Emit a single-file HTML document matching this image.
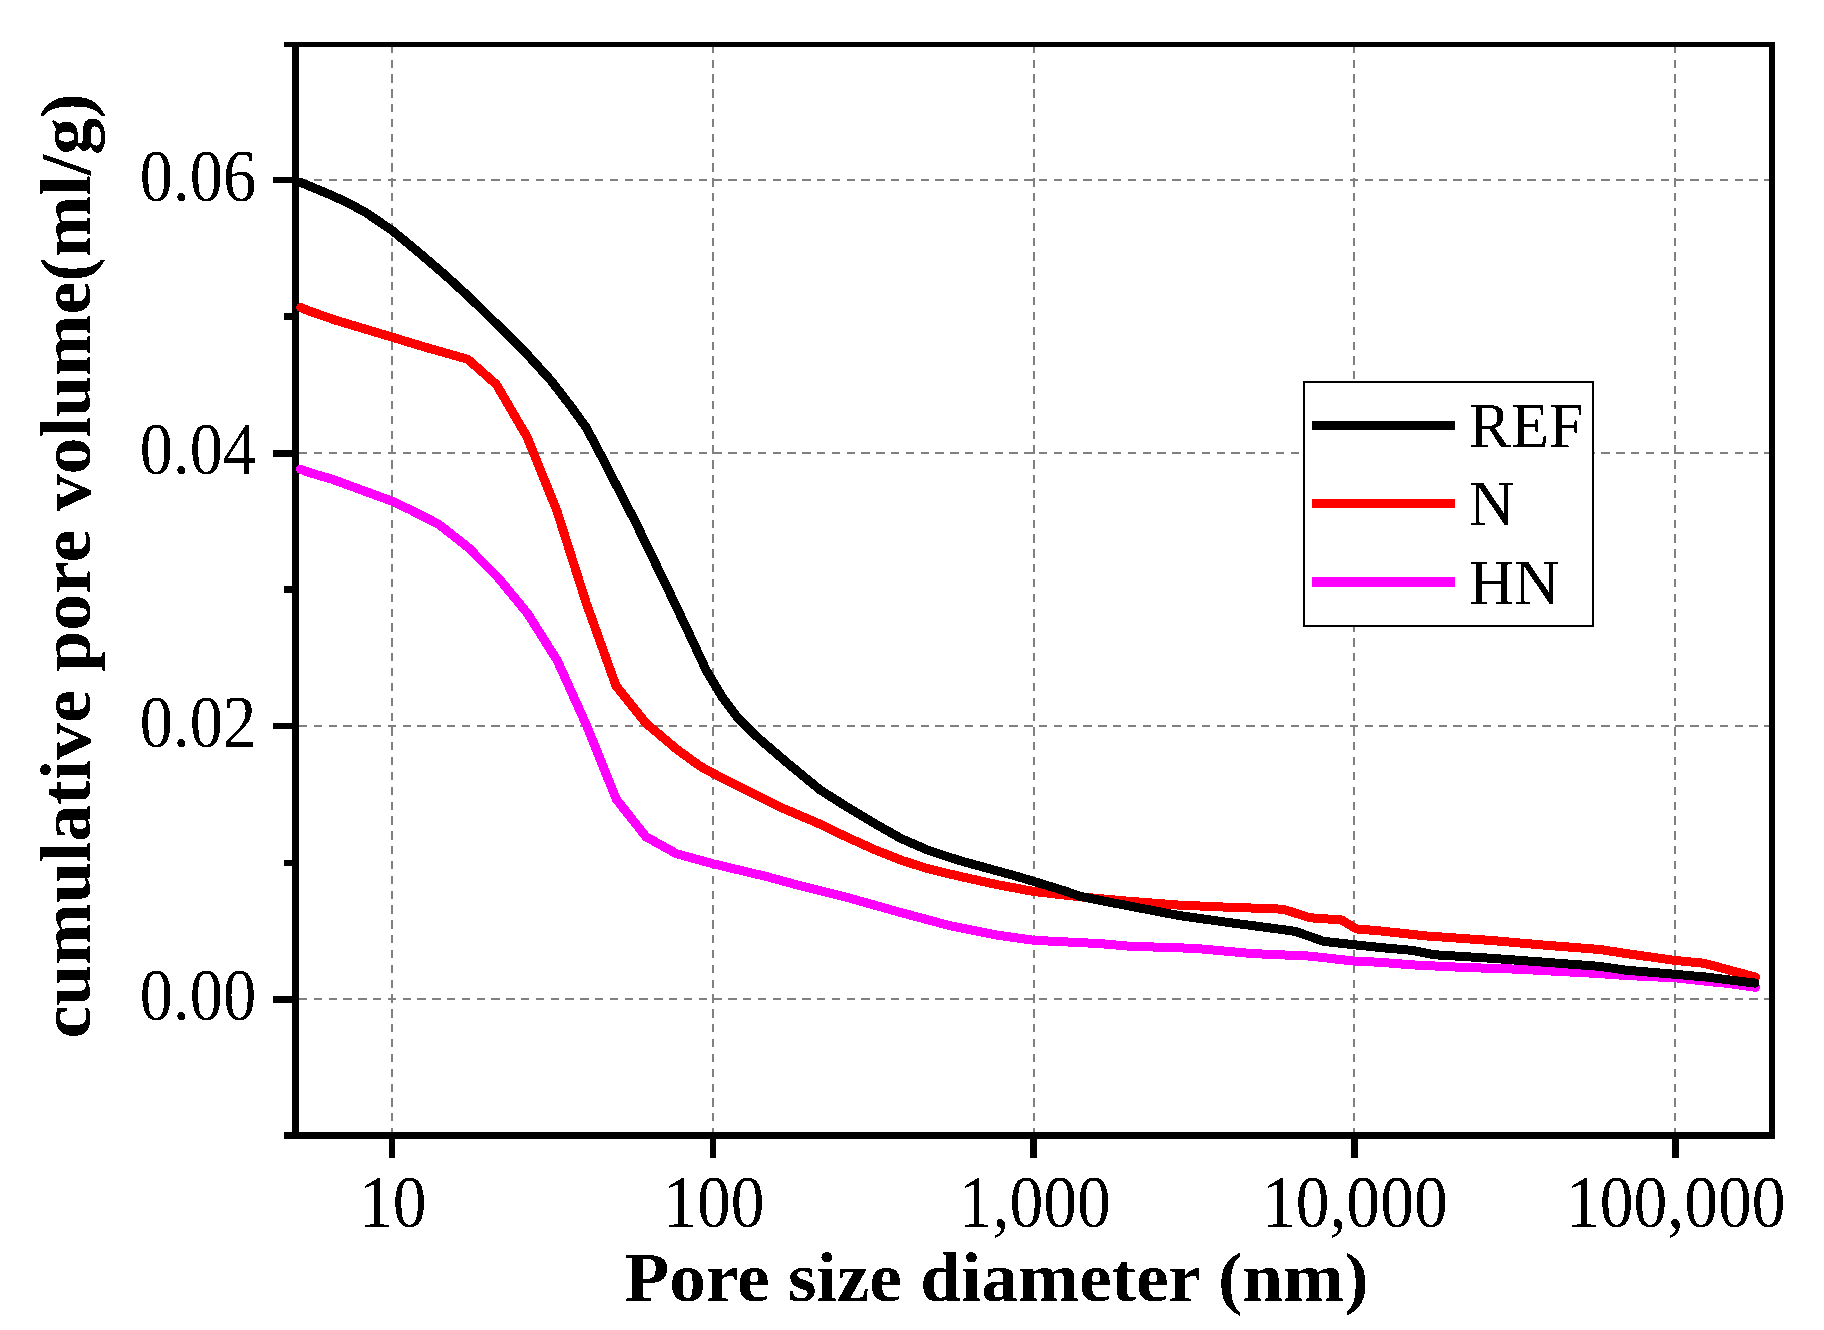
<!DOCTYPE html>
<html lang="en"><head><meta charset="utf-8"><title>Cumulative pore volume</title>
<style>
html,body{margin:0;padding:0;background:#fff;}
body{width:1824px;height:1330px;overflow:hidden;}
svg{display:block;}
text{font-family:"Liberation Serif",serif;fill:#000;}
.tk{font-size:68px;}
.ttl{font-size:73.3px;font-weight:bold;}
.lg{font-size:64px;}
</style></head><body>
<svg width="1824" height="1330" viewBox="0 0 1824 1330">
<rect x="0" y="0" width="1824" height="1330" fill="#fff"/>

<g stroke="#808080" stroke-width="2" fill="none" shape-rendering="crispEdges">
<line x1="299" y1="180" x2="1769" y2="180" stroke-dasharray="8.3 6.5"/>
<line x1="299" y1="453" x2="1769" y2="453" stroke-dasharray="8.3 6.5"/>
<line x1="299" y1="726" x2="1769" y2="726" stroke-dasharray="8.3 6.5"/>
<line x1="299" y1="999" x2="1769" y2="999" stroke-dasharray="8.3 6.5"/>
<line x1="392" y1="44.7" x2="392" y2="1132" stroke-dasharray="8.3 6.54"/>
<line x1="713" y1="44.7" x2="713" y2="1132" stroke-dasharray="8.3 6.54"/>
<line x1="1034" y1="44.7" x2="1034" y2="1132" stroke-dasharray="8.3 6.54"/>
<line x1="1354" y1="44.7" x2="1354" y2="1132" stroke-dasharray="8.3 6.54"/>
<line x1="1675" y1="44.7" x2="1675" y2="1132" stroke-dasharray="8.3 6.54"/>
</g>
<g fill="#000" shape-rendering="crispEdges">
<rect x="292" y="42" width="7" height="1097"/>
<rect x="284" y="42" width="1491" height="5"/>
<rect x="284" y="1132" width="1491" height="7"/>
<rect x="1769" y="42" width="6" height="1097"/>
<rect x="273" y="177" width="20" height="6"/>
<rect x="273" y="450" width="20" height="7"/>
<rect x="273" y="723" width="20" height="6"/>
<rect x="273" y="996" width="20" height="7"/>
<rect x="284" y="313" width="9" height="7"/>
<rect x="284" y="586" width="9" height="7"/>
<rect x="284" y="860" width="9" height="6"/>
<rect x="389" y="1138" width="6" height="20"/>
<rect x="710" y="1138" width="6" height="20"/>
<rect x="1030" y="1138" width="7" height="20"/>
<rect x="1351" y="1138" width="7" height="20"/>
<rect x="1672" y="1138" width="7" height="20"/>
</g>
<defs><clipPath id="cp"><rect x="296" y="45" width="1476" height="1090"/></clipPath><filter id="bl" x="0" y="0" width="1824" height="1330" filterUnits="userSpaceOnUse" color-interpolation-filters="sRGB"><feComponentTransfer><feFuncA type="discrete" tableValues="0 1"/></feComponentTransfer></filter></defs>
<g clip-path="url(#cp)" fill="none" stroke-width="9" stroke-linejoin="round" stroke-linecap="round" shape-rendering="crispEdges">
<polyline stroke="#ff00ff" points="300.5,469.3 310.0,472.7 332.9,479.5 391.5,501.0 408.6,509.0 438.4,524.0 468.2,547.5 498.0,577.5 527.8,613.8 557.3,660.6 586.5,725.2 616.3,799.2 646.0,836.8 676.5,853.7 713.0,863.8 765.6,876.3 800.0,885.7 849.6,898.1 899.2,912.1 948.8,925.4 998.4,935.3 1034.0,940.3 1100.0,943.6 1129.3,946.2 1195.1,948.4 1252.7,953.6 1310.3,956.1 1353.8,961.1 1380.0,962.3 1412.6,964.9 1465.3,967.5 1517.9,969.2 1600.0,973.6 1626.0,975.5 1674.9,977.8 1706.6,981.3 1729.7,983.6 1755.6,987.3"/>
<polyline stroke="#ff0000" points="300.5,307.5 310.0,311.3 335.1,320.0 392.3,337.2 425.3,347.2 467.8,359.3 496.4,384.5 527.1,437.0 556.8,510.5 586.3,603.2 616.0,685.8 646.0,723.2 676.7,749.2 700.0,766.1 713.1,773.3 745.1,789.5 781.2,807.6 817.3,822.9 847.1,837.2 874.1,849.4 901.2,860.2 928.2,868.8 960.0,876.4 998.4,884.9 1034.0,891.5 1080.0,896.8 1100.0,898.7 1129.3,901.3 1178.7,905.1 1228.0,907.2 1277.4,908.9 1285.6,910.0 1310.3,917.8 1341.5,919.9 1356.3,928.9 1380.0,930.9 1425.8,935.9 1491.6,940.5 1544.2,945.1 1600.0,949.5 1626.0,953.5 1674.9,960.4 1704.3,963.3 1729.7,970.2 1755.6,977.1"/>
<polyline stroke="#000000" points="300.5,182.3 314.0,188.0 332.1,195.5 350.1,204.0 366.0,212.7 392.3,230.6 417.1,251.0 444.1,274.1 471.2,298.9 498.2,325.5 524.1,351.0 551.2,380.8 571.5,407.2 586.4,427.8 601.5,456.4 635.3,521.8 669.2,591.7 691.7,639.1 706.4,670.7 722.6,697.6 738.3,718.6 760.2,739.7 790.2,765.3 820.0,789.8 847.1,807.0 874.1,823.2 901.2,838.6 928.2,850.3 960.0,860.7 1015.0,875.8 1034.0,881.5 1064.6,890.9 1080.0,896.3 1100.0,900.3 1129.3,906.0 1178.7,915.5 1228.0,922.4 1277.4,928.9 1295.5,931.4 1323.4,941.3 1353.8,944.7 1380.0,947.5 1412.6,950.4 1433.7,954.7 1491.6,958.3 1544.2,962.2 1600.0,966.4 1626.0,970.2 1674.9,974.3 1706.6,977.1 1729.7,980.0 1755.0,983.1"/>
</g>
<rect x="1304" y="382" width="289" height="244" fill="#fff" stroke="#000" stroke-width="2" shape-rendering="crispEdges"/>
<g shape-rendering="crispEdges">
<rect x="1312" y="421" width="143" height="9" fill="#000"/>
<rect x="1312" y="499" width="143" height="9" fill="#f00"/>
<rect x="1312" y="577" width="143" height="10" fill="#f0f"/>
</g>
<g filter="url(#bl)">
<text class="lg" transform="translate(1468.90 447.20) scale(0.9780 1.0000)">REF</text>
<text class="lg" transform="translate(1468.90 525.30) scale(0.9780 1.0000)">N</text>
<text class="lg" transform="translate(1468.90 604.30) scale(0.9780 1.0000)">HN</text>
<text class="tk" text-anchor="end" transform="translate(256.10 200.60) scale(0.9770 1.0800)">0.06</text>
<text class="tk" text-anchor="end" transform="translate(256.10 473.60) scale(0.9770 1.0800)">0.04</text>
<text class="tk" text-anchor="end" transform="translate(256.10 746.60) scale(0.9770 1.0800)">0.02</text>
<text class="tk" text-anchor="end" transform="translate(256.10 1019.60) scale(0.9770 1.0800)">0.00</text>
<text class="tk" text-anchor="middle" transform="translate(392.80 1226.60) scale(0.9940 1.0800)">10</text>
<text class="tk" text-anchor="middle" transform="translate(713.80 1226.60) scale(0.9940 1.0800)">100</text>
<text class="tk" text-anchor="middle" transform="translate(1034.80 1226.60) scale(0.9940 1.0800)">1,000</text>
<text class="tk" text-anchor="middle" transform="translate(1354.80 1226.60) scale(0.9940 1.0800)">10,000</text>
<text class="tk" text-anchor="middle" transform="translate(1675.80 1226.60) scale(0.9940 1.0800)">100,000</text>
<text class="ttl" text-anchor="middle" transform="translate(996.50 1300.60) scale(1.0000 0.9650)">Pore size diameter (nm)</text>
<text class="ttl" text-anchor="middle" transform="translate(90.30 565.85) rotate(-90) scale(1.0065 0.9750)">cumulative pore volume(ml/g)</text>
</g>
</svg></body></html>
